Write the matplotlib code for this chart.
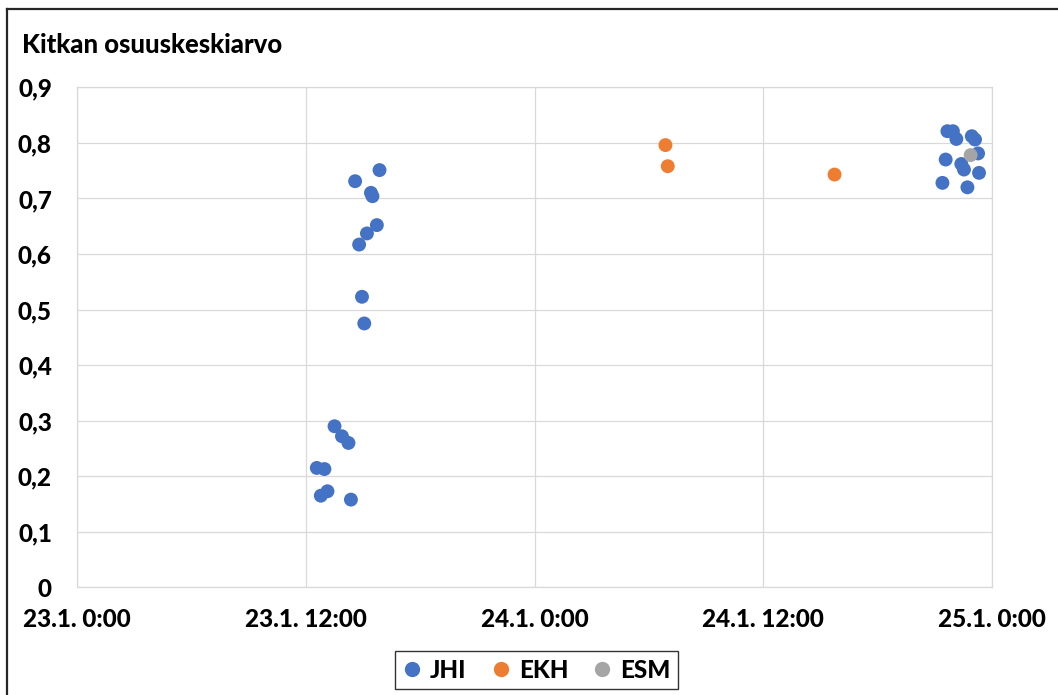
import matplotlib
matplotlib.use("Agg")
import matplotlib.pyplot as plt
import matplotlib.dates as mdates
from matplotlib.lines import Line2D
from datetime import datetime, timedelta

plt.rcParams['font.family'] = ['Lato', 'DejaVu Sans']
PAINO = 'black'

# mittausajat (tunnit 23.1. klo 0:00 alkaen) ja kitkan osuuskeskiarvot
jhi_h = [15.87, 14.59, 15.42, 15.50, 15.73, 15.21, 14.80, 14.95, 15.07,
         13.51, 13.90, 14.24, 12.58, 12.98, 13.14, 12.79, 14.37,
         45.66, 45.95, 46.13, 46.94, 47.11, 47.27, 45.57, 46.39, 46.53,
         47.32, 45.40, 46.71]
jhi_v = [0.751, 0.731, 0.710, 0.704, 0.652, 0.637, 0.617, 0.523, 0.475,
         0.290, 0.272, 0.260, 0.215, 0.213, 0.173, 0.165, 0.158,
         0.821, 0.821, 0.807, 0.812, 0.806, 0.781, 0.770, 0.762, 0.752,
         0.746, 0.728, 0.720]
ekh_h = [30.87, 30.99, 39.74]
ekh_v = [0.796, 0.758, 0.743]
esm_h = [46.88]
esm_v = [0.778]

sarjat = ['JHI', 'EKH', 'ESM']
varit = ['#4472C4', '#ED7D31', '#A5A5A5']

alku = datetime(2020, 1, 23)
def ajat(tunnit):
    return [alku + timedelta(hours=h) for h in tunnit]

W, H = 1058, 695
fig = plt.figure(figsize=(W / 100, H / 100), dpi=100)
ax = fig.add_axes([77 / W, (H - 587.4) / H, (992 - 77) / W, (587.4 - 87.3) / H])

for x, y, c in zip([jhi_h, ekh_h, esm_h], [jhi_v, ekh_v, esm_v], varit):
    ax.scatter(ajat(x), y, s=100, color=c, edgecolors='none', zorder=3, clip_on=False)

ax.set_xlim(alku, alku + timedelta(hours=48))
ax.set_ylim(0, 0.9)
ax.xaxis.set_major_locator(mdates.HourLocator(byhour=[0, 12]))
ax.xaxis.set_major_formatter(
    plt.FuncFormatter(lambda v, p: (lambda d: f"{d.day}.{d.month}. {d.hour}:{d.minute:02d}")(mdates.num2date(v))))
ax.set_yticks([i / 10 for i in range(10)])
ax.yaxis.set_major_formatter(plt.FuncFormatter(lambda v, p: f"{v:.1f}".replace('.', ',') if v > 0 else '0'))

ax.grid(True, color='#d9d9d9', linewidth=0.9)
for s in ax.spines.values():
    s.set_color('#d9d9d9')
    s.set_linewidth(0.9)
ax.tick_params(axis='both', length=0, labelsize=17.5)
ax.tick_params(axis='y', pad=18)
ax.tick_params(axis='x', pad=15)
for lab in ax.get_xticklabels() + ax.get_yticklabels():
    lab.set_fontweight(PAINO)

fig.text(22 / W, (H - 53) / H, 'Kitkan osuuskeskiarvo', fontsize=18.5,
         fontweight=PAINO, va='baseline', ha='left')

# kaavion reunaviivat
fig.add_artist(Line2D([7 / W, 7 / W], [0, (H - 9) / H], color='#262626', lw=1.6))
fig.add_artist(Line2D([7 / W, 1], [(H - 9) / H, (H - 9) / H], color='#262626', lw=1.6))

kahvat = [Line2D([], [], marker='o', linestyle='none', markersize=11,
                 markerfacecolor=c, markeredgecolor='none') for c in varit]
leg = fig.legend(kahvat, sarjat, loc='center', bbox_to_anchor=(536.5 / W, 1 - 670 / H),
                 ncol=3, fontsize=17.5, frameon=True, fancybox=False,
                 handletextpad=0.35, columnspacing=1.0, handlelength=0.8,
                 borderpad=0.3, borderaxespad=0)
leg.get_frame().set_edgecolor('black')
leg.get_frame().set_linewidth(1.0)
for t in leg.get_texts():
    t.set_fontweight(PAINO)

fig.savefig('out.png', dpi=100, facecolor='white')
